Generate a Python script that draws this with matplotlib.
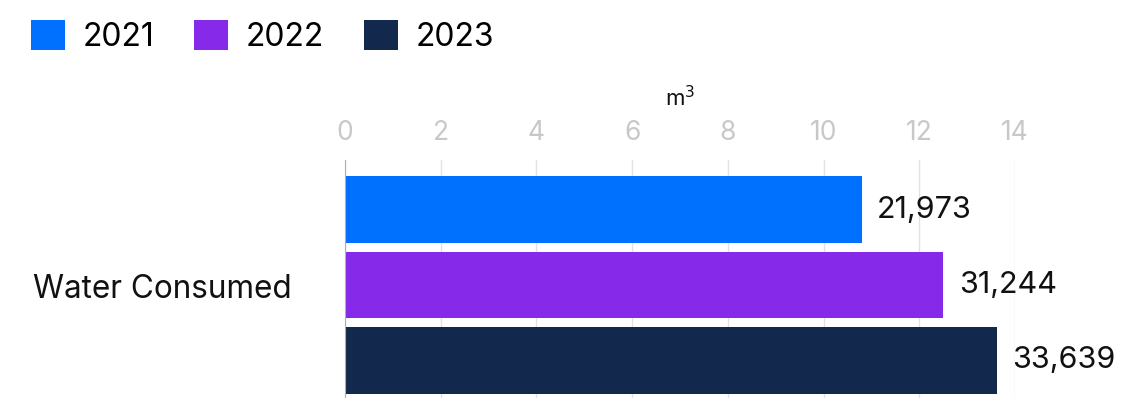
import matplotlib.pyplot as plt
from matplotlib.patches import Patch

plt.rcParams['font.family'] = ['Inter', 'DejaVu Sans']

# valeurs
years = ['2021', '2022', '2023']
bar_lengths = [10.8, 12.5, 13.62]
value_labels = ['21,973', '31,244', '33,639']
colors = ['#0070ff', '#8629e9', '#12284c']
category = 'Water Consumed'
x_ticks = [0, 2, 4, 6, 8, 10, 12, 14]

fig = plt.figure(figsize=(11.32, 3.98), dpi=100)
ax = fig.add_axes([0.3048, 0.0, 0.5919, 0.598])

ypos = [0, 1, 2]
ax.barh(ypos, bar_lengths, height=0.887, color=colors, zorder=3)

for y, v, lab in zip(ypos, bar_lengths, value_labels):
    ax.text(v + 0.32, y, lab, va='center', ha='left', fontsize=22,
            color='#111111', clip_on=False)

ax.set_xlim(0, 14)
ax.set_ylim(2.497, -0.656)
ax.set_xticks(x_ticks)
ax.xaxis.tick_top()
ax.tick_params(axis='x', length=0, pad=10, labelsize=19, labelcolor='#c8c8c8')
ax.set_yticks([])
ax.grid(axis='x', color='#e2e2e2', linewidth=1, zorder=0)
for s in ['top', 'right', 'bottom']:
    ax.spines[s].set_visible(False)
ax.spines['left'].set_color('#b0b0b0')
ax.spines['left'].set_zorder(4)

ax.xaxis.set_label_position('top')
ax.set_xlabel('m$^3$', fontsize=16, labelpad=10, color='#111111')

fig.text(0.029, 1 - 289 / 398, category, fontsize=22.7, va='center',
         ha='left', color='#111111')

handles = [Patch(facecolor=c, edgecolor='none') for c in colors]
fig.legend(handles, years, loc='upper left', bbox_to_anchor=(0.027, 0.95),
           ncol=3, frameon=False, fontsize=23, handlelength=1.07,
           handleheight=1.07, handletextpad=0.55, columnspacing=1.25,
           borderpad=0, borderaxespad=0)

fig.savefig('out.png', dpi=100)
